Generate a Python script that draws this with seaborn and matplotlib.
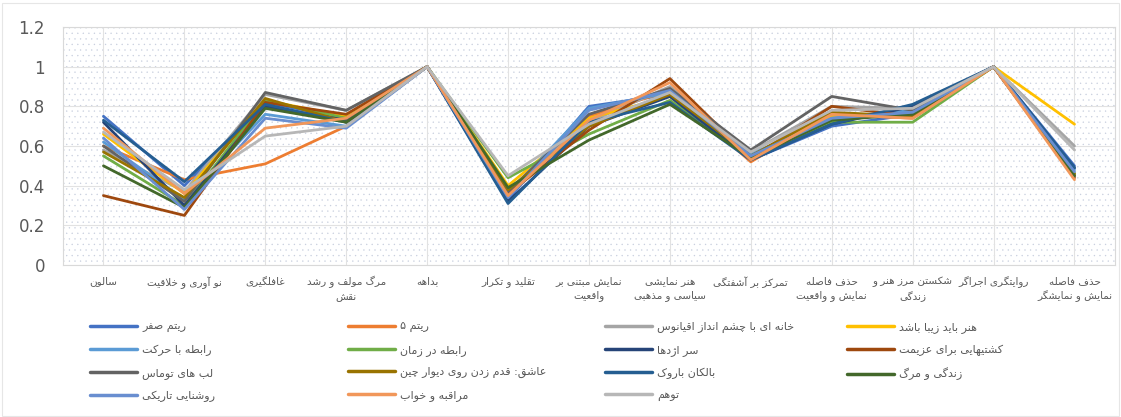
import matplotlib
matplotlib.use('Agg')
import pandas as pd
import matplotlib.pyplot as plt
import seaborn as sns
from matplotlib.patches import Rectangle
from matplotlib.lines import Line2D

# Presentation forms (isolated, final, initial, medial) so Persian text is joined
FORMS = {
    'آ': ('\uFE81', '\uFE82', None, None),
    'أ': ('\uFE83', '\uFE84', None, None),
    'ؤ': ('\uFE85', '\uFE86', None, None),
    'ئ': ('\uFE89', '\uFE8A', '\uFE8B', '\uFE8C'),
    'ا': ('\uFE8D', '\uFE8E', None, None),
    'ب': ('\uFE8F', '\uFE90', '\uFE91', '\uFE92'),
    'ت': ('\uFE95', '\uFE96', '\uFE97', '\uFE98'),
    'ث': ('\uFE99', '\uFE9A', '\uFE9B', '\uFE9C'),
    'ج': ('\uFE9D', '\uFE9E', '\uFE9F', '\uFEA0'),
    'ح': ('\uFEA1', '\uFEA2', '\uFEA3', '\uFEA4'),
    'خ': ('\uFEA5', '\uFEA6', '\uFEA7', '\uFEA8'),
    'د': ('\uFEA9', '\uFEAA', None, None),
    'ذ': ('\uFEAB', '\uFEAC', None, None),
    'ر': ('\uFEAD', '\uFEAE', None, None),
    'ز': ('\uFEAF', '\uFEB0', None, None),
    'س': ('\uFEB1', '\uFEB2', '\uFEB3', '\uFEB4'),
    'ش': ('\uFEB5', '\uFEB6', '\uFEB7', '\uFEB8'),
    'ص': ('\uFEB9', '\uFEBA', '\uFEBB', '\uFEBC'),
    'ض': ('\uFEBD', '\uFEBE', '\uFEBF', '\uFEC0'),
    'ط': ('\uFEC1', '\uFEC2', '\uFEC3', '\uFEC4'),
    'ظ': ('\uFEC5', '\uFEC6', '\uFEC7', '\uFEC8'),
    'ع': ('\uFEC9', '\uFECA', '\uFECB', '\uFECC'),
    'غ': ('\uFECD', '\uFECE', '\uFECF', '\uFED0'),
    'ف': ('\uFED1', '\uFED2', '\uFED3', '\uFED4'),
    'ق': ('\uFED5', '\uFED6', '\uFED7', '\uFED8'),
    'ل': ('\uFEDD', '\uFEDE', '\uFEDF', '\uFEE0'),
    'م': ('\uFEE1', '\uFEE2', '\uFEE3', '\uFEE4'),
    'ن': ('\uFEE5', '\uFEE6', '\uFEE7', '\uFEE8'),
    'ه': ('\uFEE9', '\uFEEA', '\uFEEB', '\uFEEC'),
    'و': ('\uFEED', '\uFEEE', None, None),
    'پ': ('\uFB56', '\uFB57', '\uFB58', '\uFB59'),
    'چ': ('\uFB7A', '\uFB7B', '\uFB7C', '\uFB7D'),
    'ژ': ('\uFB8A', '\uFB8B', None, None),
    'ک': ('\uFB8E', '\uFB8F', '\uFB90', '\uFB91'),
    'گ': ('\uFB92', '\uFB93', '\uFB94', '\uFB95'),
    'ی': ('\uFBFC', '\uFBFD', '\uFBFE', '\uFBFF'),
}
LAM_ALEF = {'ا': ('\uFEFB', '\uFEFC'), 'آ': ('\uFEF5', '\uFEF6')}


def fa(text):
    lines = []
    for line in text.split('\n'):
        res = []
        i = 0
        while i < len(line):
            c = line[i]
            prev = line[i - 1] if i > 0 else ''
            joins_prev = prev in FORMS and FORMS[prev][2] is not None
            if c == 'ل' and i + 1 < len(line) and line[i + 1] in LAM_ALEF:
                lig = LAM_ALEF[line[i + 1]]
                res.append(lig[1] if joins_prev else lig[0])
                i += 2
                continue
            if c in FORMS:
                f = FORMS[c]
                nxt = line[i + 1] if i + 1 < len(line) else ''
                joins_next = f[2] is not None and nxt in FORMS
                if joins_prev and joins_next:
                    res.append(f[3])
                elif joins_prev:
                    res.append(f[1])
                elif joins_next:
                    res.append(f[2])
                else:
                    res.append(f[0])
            else:
                res.append(c)
            i += 1
        lines.append(''.join(res)[::-1])
    return '\n'.join(lines)


# Data
categories = ['سالون', 'نو آوری و خلاقیت', 'غافلگیری', 'مرگ مولف و رشد\nنقش', 'بداهه',
              'تقلید و تکرار', 'نمایش مبتنی بر\nواقعیت', 'هنر نمایشی\nسیاسی و مذهبی',
              'تمرکز بر آشفتگی', 'حذف فاصله\nنمایش و واقعیت', 'شکستن مرز هنر و\nزندگی',
              'روایتگری اجراگر', 'حذف فاصله\nنمایش و نمایشگر']

series = ['ریتم صفر', 'ریتم ۵', 'خانه ای با چشم انداز اقیانوس', 'هنر باید زیبا باشد',
          'رابطه با حرکت', 'رابطه در زمان', 'سر اژدها', 'کشتیهایی برای عزیمت',
          'لب های توماس', 'عاشق: قدم زدن روی دیوار چین', 'بالکان باروک', 'زندگی و مرگ',
          'روشنایی تاریکی', 'مراقبه و خواب', 'توهم']

rhythm_zero = [0.75, 0.40, 0.82, 0.74, 1.0, 0.33, 0.80, 0.86, 0.53, 0.70, 0.76, 1.0, 0.50]
rhythm_five = [0.60, 0.43, 0.51, 0.70, 1.0, 0.35, 0.75, 0.88, 0.52, 0.76, 0.74, 1.0, 0.45]
ocean_house = [0.58, 0.37, 0.86, 0.78, 1.0, 0.38, 0.72, 0.90, 0.57, 0.80, 0.79, 1.0, 0.60]
art_beautiful = [0.66, 0.36, 0.83, 0.75, 1.0, 0.40, 0.74, 0.85, 0.55, 0.75, 0.76, 1.0, 0.71]
with_motion = [0.62, 0.33, 0.76, 0.70, 1.0, 0.36, 0.79, 0.87, 0.56, 0.74, 0.78, 1.0, 0.48]
in_time = [0.55, 0.30, 0.83, 0.74, 1.0, 0.44, 0.66, 0.83, 0.55, 0.72, 0.72, 1.0, 0.46]
dragon_head = [0.72, 0.30, 0.80, 0.73, 1.0, 0.32, 0.70, 0.85, 0.53, 0.71, 0.80, 1.0, 0.49]
ships = [0.35, 0.25, 0.82, 0.76, 1.0, 0.36, 0.68, 0.94, 0.54, 0.80, 0.75, 1.0, 0.44]
thomas_lips = [0.60, 0.32, 0.87, 0.78, 1.0, 0.37, 0.76, 0.89, 0.58, 0.85, 0.78, 1.0, 0.45]
lover_wall = [0.57, 0.34, 0.84, 0.72, 1.0, 0.38, 0.70, 0.86, 0.55, 0.77, 0.75, 1.0, 0.46]
baroque_balkan = [0.73, 0.42, 0.81, 0.72, 1.0, 0.31, 0.72, 0.82, 0.53, 0.71, 0.81, 1.0, 0.49]
life_death = [0.50, 0.29, 0.79, 0.72, 1.0, 0.39, 0.63, 0.81, 0.54, 0.73, 0.76, 1.0, 0.45]
light_dark = [0.64, 0.28, 0.74, 0.69, 1.0, 0.34, 0.78, 0.88, 0.55, 0.74, 0.77, 1.0, 0.47]
meditation = [0.69, 0.36, 0.69, 0.74, 1.0, 0.35, 0.73, 0.92, 0.53, 0.76, 0.74, 1.0, 0.43]
illusion = [0.67, 0.38, 0.65, 0.70, 1.0, 0.45, 0.71, 0.87, 0.57, 0.78, 0.79, 1.0, 0.58]

values = [rhythm_zero, rhythm_five, ocean_house, art_beautiful, with_motion, in_time,
          dragon_head, ships, thomas_lips, lover_wall, baroque_balkan, life_death,
          light_dark, meditation, illusion]

colors = ['#4472C4', '#ED7D31', '#A5A5A5', '#FFC000', '#5B9BD5', '#70AD47', '#264478',
          '#9E480E', '#636363', '#997300', '#255E91', '#43682B', '#698ED0', '#F1975A',
          '#B7B7B7']

rows = []
for name, vals in zip(series, values):
    for pos, v in enumerate(vals):
        rows.append({'pos': pos, 'value': v, 'series': name})
df = pd.DataFrame(rows)

# Plot
sns.set_style('white')
plt.rcParams['font.family'] = ['DejaVu Sans']
plt.rcParams['hatch.linewidth'] = 0.2
fig = plt.figure(figsize=(11.21, 4.17), dpi=100)
ax = fig.add_axes([0.0562, 0.3645, 0.9384, 0.5707])

# dotted plot area background
ax.add_patch(Rectangle((0, 0), 1, 1, transform=ax.transAxes, facecolor='white',
                       edgecolor='#c6cddd', hatch='...', lw=0, zorder=0))

sns.lineplot(data=df, x='pos', y='value', hue='series', hue_order=series,
             palette=colors, linewidth=2, legend=False, sort=False, ax=ax, zorder=3)

ax.set_xlim(-0.5, len(categories) - 0.5)
ax.set_ylim(0, 1.2)
ax.set_yticks([0, 0.2, 0.4, 0.6, 0.8, 1.0, 1.2])
ax.set_yticklabels(['0', '0.2', '0.4', '0.6', '0.8', '1', '1.2'], fontsize=12, color='#595959')
ax.set_xticks(range(len(categories)))
ax.set_xticklabels([fa(c) for c in categories], fontsize=7.5, color='#595959', linespacing=1.5)
ax.tick_params(axis='y', length=0, pad=13)
ax.tick_params(axis='x', length=0, pad=8)
ax.set_xlabel('')
ax.set_ylabel('')
ax.grid(True, color='#e2e2e2', linewidth=0.8)
ax.set_axisbelow(True)
for s in ax.spines.values():
    s.set_color('#d9d9d9')
    s.set_linewidth(0.8)

# Legend laid out row by row in four columns
col_x = [90, 348, 605, 847]
for c in range(4):
    idx = list(range(c, len(series), 4))
    handles = [Line2D([0], [0], color=colors[i], lw=2.5) for i in idx]
    labels = [fa(series[i]) for i in idx]
    fig.legend(handles, labels, loc='upper left', bbox_to_anchor=(col_x[c] / 1121, 0.228),
               frameon=False, fontsize=8, handlelength=4.2, handletextpad=0.5,
               labelspacing=1.05, borderpad=0, borderaxespad=0, labelcolor='#595959')

fig.patches.append(Rectangle((0.002, 0.002), 0.996, 0.99, transform=fig.transFigure,
                             fill=False, edgecolor='#e6e6e6', lw=0.8))

plt.savefig('out.png', dpi=100)
